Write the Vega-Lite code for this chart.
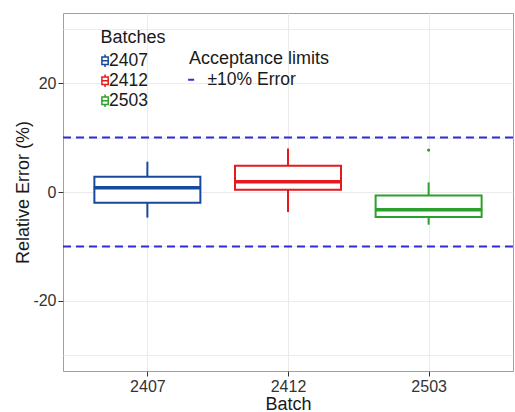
{
  "$schema": "https://vega.github.io/schema/vega-lite/v6.json",
  "autosize": {"type": "none"},
  "width": 450,
  "height": 358,
  "padding": {"left": 63, "top": 13, "right": 2, "bottom": 41},
  "background": "white",
  "datasets": {
    "boxes": [
      {"Batch": "2407", "lower": -4.7, "q1": -1.96, "median": 0.79, "q3": 2.8, "upper": 5.56},
      {"Batch": "2412", "lower": -3.67, "q1": 0.42, "median": 1.89, "q3": 4.8, "upper": 8.0},
      {"Batch": "2503", "lower": -6.0, "q1": -4.6, "median": -3.25, "q3": -0.62, "upper": 1.76}
    ],
    "outliers": [
      {"Batch": "2503", "value": 7.7}
    ],
    "limits": [
      {"limit": 10, "label": "±10% Error"},
      {"limit": -10, "label": "±10% Error"}
    ]
  },
  "config": {
    "font": "Liberation Sans",
    "view": {"stroke": "#a0a0a0", "strokeWidth": 1},
    "axis": {
      "domain": false,
      "gridColor": "#ebebeb",
      "gridWidth": 1,
      "tickColor": "#333333",
      "tickSize": 5,
      "labelFont": "Liberation Sans",
      "labelFontSize": 16,
      "labelColor": "#333333",
      "titleFont": "Liberation Sans",
      "titleFontSize": 18,
      "titleFontWeight": "normal",
      "titleColor": "#1a1a1a",
      "labelPadding": 2
    },
    "axisX": {"labelAngle": 0, "labelAlign": "center"},
    "legend": {
      "titleFont": "Liberation Sans",
      "labelFont": "Liberation Sans",
      "titleFontSize": 18,
      "titleFontWeight": "normal",
      "titleColor": "#1a1a1a",
      "labelFontSize": 17.5,
      "labelColor": "#1a1a1a"
    }
  },
  "layer": [
    {
      "data": {"name": "limits"},
      "mark": {"type": "rule", "color": "#2d2de0", "strokeWidth": 2},
      "encoding": {
        "y": {"field": "limit", "type": "quantitative"},
        "strokeDash": {
          "field": "label",
          "type": "nominal",
          "scale": {"range": [[8, 5]]},
          "legend": {
            "title": "Acceptance limits",
            "orient": "none",
            "legendX": 126,
            "legendY": 37,
            "symbolType": "M-3.2,0H-1.2",
            "symbolSize": 36,
            "symbolStrokeColor": "#2d2de0",
            "symbolStrokeWidth": 2,
            "labelOffset": 1,
            "titlePadding": 3
          }
        }
      }
    },
    {
      "data": {"name": "boxes"},
      "mark": {"type": "rule", "strokeWidth": 2, "opacity": 1},
      "encoding": {
        "x": {
          "field": "Batch",
          "type": "nominal",
          "sort": ["2407", "2412", "2503"],
          "scale": {"type": "point", "padding": 0.6},
          "axis": {"labelAngle": 0, "labelAlign": "center", "title": "Batch", "titlePadding": 1, "grid": true}
        },
        "y": {"field": "lower", "type": "quantitative"},
        "y2": {"field": "upper"},
        "stroke": {"field": "Batch", "type": "nominal"}
      }
    },
    {
      "data": {"name": "boxes"},
      "mark": {"type": "bar", "filled": false, "fill": "white", "strokeWidth": 2, "opacity": 1},
      "encoding": {
        "x": {"field": "Batch", "type": "nominal", "sort": ["2407", "2412", "2503"]},
        "y": {
          "field": "q1",
          "type": "quantitative",
          "scale": {"domain": [-32.85, 32.85], "nice": false, "zero": false},
          "axis": {
            "title": "Relative Error (%)",
            "values": [-30, -20, -10, 0, 10, 20, 30],
            "labelExpr": "datum.value % 20 === 0 ? toString(datum.value) : ''",
            "tickOpacity": {"condition": {"test": "datum.value % 20 === 0", "value": 1}, "value": 0},
            "titlePadding": 0,
            "grid": true
          }
        },
        "y2": {"field": "q3"},
        "size": {"value": 106},
        "stroke": {
          "field": "Batch",
          "type": "nominal",
          "scale": {"domain": ["2407", "2412", "2503"], "range": ["#174a9c", "#e41a1c", "#2ca02c"]},
          "legend": {
            "title": "Batches",
            "orient": "none",
            "legendX": 37.5,
            "legendY": 16,
            "symbolType": "M-2.1,-1.1H-0.3V1.1H-2.1Z M-2.1,0H-0.3 M-1.2,-1.8V-1.1 M-1.2,1.1V1.8",
            "symbolSize": 49,
            "symbolStrokeWidth": 1.5,
            "symbolFillColor": "white",
            "labelOffset": -9,
            "titlePadding": 5,
            "rowPadding": 0
          }
        }
      }
    },
    {
      "data": {"name": "boxes"},
      "mark": {"type": "tick", "filled": false, "thickness": 0.5, "strokeWidth": 3, "opacity": 1},
      "encoding": {
        "x": {"field": "Batch", "type": "nominal", "sort": ["2407", "2412", "2503"]},
        "y": {"field": "median", "type": "quantitative"},
        "size": {"value": 104},
        "stroke": {"field": "Batch", "type": "nominal"}
      }
    },
    {
      "data": {"name": "outliers"},
      "mark": {"type": "point", "filled": false, "strokeWidth": 1.5, "opacity": 1},
      "encoding": {
        "x": {"field": "Batch", "type": "nominal", "sort": ["2407", "2412", "2503"]},
        "y": {"field": "value", "type": "quantitative"},
        "size": {"value": 3},
        "stroke": {"field": "Batch", "type": "nominal"}
      }
    }
  ]
}
